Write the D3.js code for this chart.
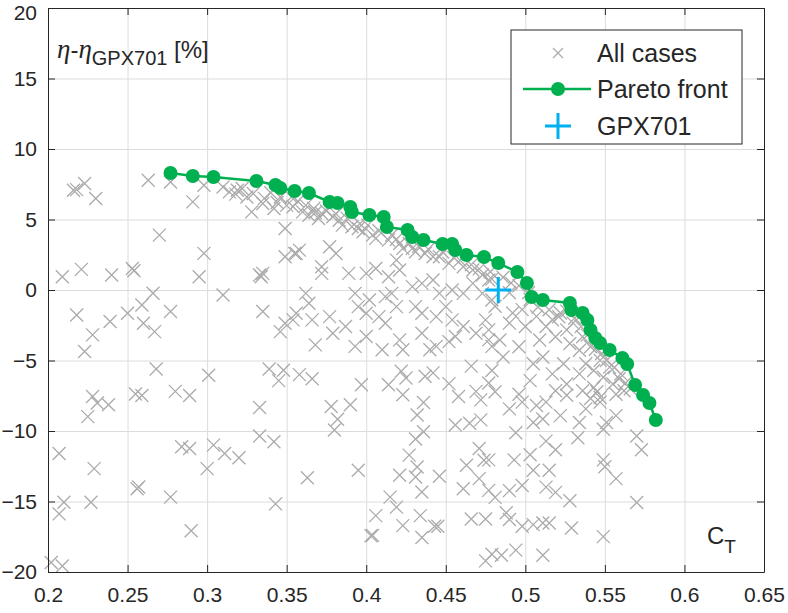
<!DOCTYPE html>
<html>
<head>
<meta charset="utf-8">
<script src="https://cdn.jsdelivr.net/npm/d3@7"></script>
<style>
  body { margin: 0; background: #fff; }
  svg { display: block; }
  text { font-family: "Liberation Sans", Arial, sans-serif; fill: #262626; }
</style>
</head>
<body>
<script>
// tick values
const xTicks = [0.2, 0.25, 0.3, 0.35, 0.4, 0.45, 0.5, 0.55, 0.6, 0.65];
const yTicks = [-20, -15, -10, -5, 0, 5, 10, 15, 20];

// all design cases, [CT, eta - eta_GPX701]
const allCases = [
  [0.216, 7.07], [0.218, 7.12], [0.223, 7.55], [0.230, 6.49], [0.263, 7.78], [0.277, 7.66],
  [0.291, 6.25], [0.298, 7.43], [0.310, 7.31], [0.314, 6.96], [0.319, 7.07], [0.325, 6.60],
  [0.329, 6.84], [0.328, 5.54], [0.335, 6.13], [0.342, 5.78], [0.346, 6.60], [0.350, 6.00],
  [0.354, 5.90], [0.349, 4.36], [0.349, 2.36], [0.355, 2.60], [0.270, 3.89], [0.298, 2.60],
  [0.295, 0.94], [0.209, 0.94], [0.221, 1.46], [0.240, 1.06], [0.253, 1.53], [0.254, 1.37],
  [0.333, 1.06], [0.335, 1.18], [0.334, 0.94], [0.310, -0.35], [0.266, -0.23], [0.259, -1.06],
  [0.250, -1.65], [0.218, -1.77], [0.239, -2.24], [0.228, -3.18], [0.223, -4.36], [0.260, -2.36],
  [0.267, -2.95], [0.277, -1.53], [0.335, -1.53], [0.346, -2.95], [0.349, -2.36], [0.354, -2.12],
  [0.228, -7.55], [0.231, -8.02], [0.238, -8.14], [0.225, -8.98], [0.255, -7.38], [0.259, -7.48],
  [0.268, -5.60], [0.280, -7.19], [0.289, -7.48], [0.301, -6.05], [0.333, -8.33], [0.339, -5.60],
  [0.345, -6.43], [0.348, -5.69], [0.333, -10.36], [0.342, -10.76], [0.207, -11.59], [0.229, -12.67],
  [0.257, -13.97], [0.256, -14.10], [0.284, -11.12], [0.289, -11.24], [0.304, -11.00], [0.311, -11.59],
  [0.320, -11.90], [0.300, -12.67], [0.277, -14.69], [0.290, -17.07], [0.343, -15.17], [0.210, -15.05],
  [0.227, -15.05], [0.207, -15.88], [0.202, -19.33], [0.209, -19.57],
  [0.353, 6.60], [0.360, 5.54], [0.364, 5.30], [0.367, 5.78], [0.370, 5.07], [0.372, 5.42],
  [0.379, 5.19], [0.383, 4.95], [0.385, 4.60], [0.391, 4.48], [0.395, 4.36], [0.398, 4.13],
  [0.404, 3.89], [0.406, 3.66], [0.414, 3.54], [0.421, 3.30], [0.423, 2.95], [0.429, 2.95],
  [0.431, 2.71], [0.437, 2.59], [0.442, 2.36], [0.446, 2.36], [0.452, 1.89], [0.461, 1.65],
  [0.467, 1.42], [0.473, 1.06], [0.477, 0.71], [0.356, 2.59], [0.358, 2.83], [0.372, 1.65],
  [0.372, 1.18], [0.377, 3.07], [0.381, 2.59], [0.389, 1.18], [0.400, 1.18], [0.406, 1.53],
  [0.414, 0.94], [0.419, 2.12], [0.421, 1.42], [0.429, 0.24], [0.435, 0.47], [0.442, 0.71],
  [0.446, -0.24], [0.454, 0.00], [0.461, -0.24], [0.467, 0.47], [0.473, -0.24], [0.479, -0.71],
  [0.362, -0.24], [0.364, -0.94], [0.356, -1.65], [0.377, -1.89], [0.366, -2.12], [0.393, -0.24],
  [0.395, -1.18], [0.400, -1.65], [0.402, -0.71], [0.412, -0.47], [0.416, -0.24], [0.408, -1.89],
  [0.412, -2.36], [0.419, -1.18], [0.431, -1.18], [0.435, -1.65], [0.444, -1.89], [0.450, -1.18],
  [0.454, -2.12], [0.456, -3.30], [0.452, -3.66], [0.461, -2.59], [0.469, -3.07], [0.475, -2.12],
  [0.477, -3.54], [0.479, -4.00], [0.387, -2.59], [0.379, -3.07], [0.393, -4.00], [0.400, -3.30],
  [0.368, -3.89], [0.421, -3.54], [0.423, -4.24], [0.440, -4.24], [0.444, -4.00], [0.435, -3.07],
  [0.410, -4.24],
  [0.358, -6.00], [0.366, -6.29], [0.397, -6.72], [0.378, -8.26], [0.390, -8.14], [0.382, -9.17],
  [0.380, -9.93], [0.363, -13.31], [0.395, -12.78], [0.414, -6.72], [0.422, -5.76], [0.425, -6.24],
  [0.423, -7.43], [0.437, -6.12], [0.442, -5.88], [0.452, -6.64], [0.436, -7.98], [0.432, -8.86],
  [0.436, -10.05], [0.431, -10.57], [0.427, -11.71], [0.432, -12.55], [0.431, -13.26], [0.421, -13.14],
  [0.446, -13.21], [0.435, -14.33], [0.415, -14.69], [0.419, -15.40], [0.406, -16.00], [0.423, -16.71],
  [0.434, -16.00], [0.443, -16.76], [0.445, -16.76], [0.403, -17.43], [0.404, -17.40], [0.435, -17.55],
  [0.458, -7.55], [0.456, -9.57], [0.465, -9.45], [0.472, -9.21], [0.469, -7.19], [0.472, -7.79],
  [0.477, -6.60], [0.466, -5.40], [0.463, -12.43], [0.471, -11.24], [0.474, -12.07], [0.471, -13.38],
  [0.477, -14.21], [0.461, -14.10], [0.466, -16.24], [0.475, -16.24], [0.475, -19.21], [0.479, -18.74],
  [0.479, 0.77], [0.481, -1.15], [0.490, -0.19], [0.492, -1.63], [0.490, -2.35], [0.498, -1.39],
  [0.503, -0.67], [0.500, -2.59], [0.507, -1.87], [0.509, -3.55], [0.513, -2.59], [0.517, -2.11],
  [0.519, -3.31], [0.522, -1.63], [0.526, -2.83], [0.528, -3.79], [0.530, -2.35], [0.534, -4.27],
  [0.536, -3.31], [0.538, -5.23], [0.541, -4.03], [0.543, -5.71], [0.547, -4.99], [0.549, -6.19],
  [0.553, -5.47], [0.555, -6.67], [0.560, -5.95], [0.562, -7.15], [0.484, -3.55], [0.486, -4.75],
  [0.496, -4.03], [0.505, -5.23], [0.511, -4.75], [0.517, -5.95], [0.524, -5.23], [0.526, -6.67],
  [0.534, -5.95], [0.536, -7.15], [0.543, -6.91], [0.547, -7.63], [0.519, -7.15], [0.503, -6.43],
  [0.496, -7.39], [0.479, -5.71], [0.477, -2.83], [0.557, -7.39],
  [0.481, -7.22], [0.490, -8.43], [0.498, -7.95], [0.507, -8.19], [0.513, -7.95], [0.522, -8.91],
  [0.505, -9.40], [0.511, -9.15], [0.526, -7.46], [0.534, -9.40], [0.538, -8.43], [0.541, -7.70],
  [0.547, -7.95], [0.551, -9.40], [0.549, -9.88], [0.557, -8.91], [0.545, -7.22], [0.533, -10.48],
  [0.494, -10.12], [0.513, -10.72], [0.519, -11.33], [0.493, -12.05], [0.503, -11.69], [0.505, -12.78],
  [0.515, -12.78], [0.513, -13.98], [0.519, -14.35], [0.528, -14.95], [0.498, -13.86], [0.490, -14.23],
  [0.481, -14.71], [0.488, -15.80], [0.490, -16.28], [0.498, -16.76], [0.505, -16.64], [0.511, -16.52],
  [0.515, -16.52], [0.529, -16.88], [0.549, -12.05], [0.550, -12.54], [0.557, -13.38], [0.549, -17.49],
  [0.570, -10.36], [0.573, -11.33], [0.570, -15.07], [0.494, -18.45], [0.511, -18.81], [0.485, -18.81],
  [0.477, -12.05],
  [0.357, 6.30], [0.362, 6.00], [0.368, 5.50], [0.375, 5.60], [0.381, 5.40], [0.388, 5.10],
  [0.396, 4.70], [0.401, 4.60], [0.408, 4.20], [0.416, 3.90], [0.419, 3.60], [0.427, 3.30],
  [0.433, 3.10], [0.439, 2.90], [0.448, 2.70], [0.455, 2.30], [0.459, 2.10], [0.466, 1.80],
  [0.471, 1.50], [0.478, 1.30], [0.486, 0.90], [0.491, 0.50], [0.496, 0.30], [0.502, -0.20],
  [0.508, -1.20], [0.515, -1.40], [0.521, -1.90], [0.526, -1.50], [0.531, -2.00], [0.535, -2.60],
  [0.539, -3.20], [0.544, -4.20], [0.548, -4.50], [0.551, -5.00], [0.556, -5.50], [0.559, -6.30],
  [0.563, -6.60], [0.566, -7.00], [0.318, 6.80], [0.322, 7.20], [0.336, 6.50], [0.340, 6.90],
  [0.344, 6.20]
];

// Pareto front
const paretoCT = [0.277, 0.291, 0.304, 0.331, 0.343, 0.346, 0.355, 0.364, 0.377, 0.382, 0.390, 0.391,
  0.402, 0.411, 0.413, 0.426, 0.429, 0.436, 0.448, 0.454, 0.456, 0.463, 0.474, 0.483, 0.495, 0.501,
  0.504, 0.511, 0.528, 0.529, 0.536, 0.539, 0.541, 0.544, 0.547, 0.553, 0.561, 0.564, 0.569, 0.574,
  0.578, 0.582];
const paretoEta = [8.30, 8.09, 8.01, 7.73, 7.45, 7.23, 7.02, 6.88, 6.24, 6.17, 5.89, 5.53,
  5.32, 5.18, 4.47, 4.26, 3.76, 3.55, 3.26, 3.26, 2.84, 2.48, 2.34, 1.91, 1.28, 0.50,
  -0.50, -0.71, -0.92, -1.42, -1.63, -2.13, -2.84, -3.40, -3.76, -4.26, -4.82, -5.25, -6.74, -7.45,
  -8.01, -9.22];

// baseline design
const gpxCT = 0.483;
const gpxEta = 0.0;

const legendLabels = ["All cases", "Pareto front", "GPX701"];

const W = 788, H = 613;
const L = 48, R = 764, T = 8, B = 572;
const grey = "#ababab", green = "#00b050", blue = "#00b0f0", ink = "#262626";

const svg = d3.select("body").append("svg").attr("width", W).attr("height", H);

const x = d3.scaleLinear().domain([0.2, 0.65]).range([L, R]);
const y = d3.scaleLinear().domain([-20, 20]).range([B, T]);

// grid
svg.append("g")
  .attr("transform", "translate(0," + B + ")")
  .call(d3.axisBottom(x).tickValues(xTicks).tickSize(-(B - T)).tickFormat(""))
  .call(g => g.select(".domain").remove())
  .selectAll("line").attr("stroke", "#dcdcdc");
svg.append("g")
  .attr("transform", "translate(" + L + ",0)")
  .call(d3.axisLeft(y).tickValues(yTicks).tickSize(-(R - L)).tickFormat(""))
  .call(g => g.select(".domain").remove())
  .selectAll("line").attr("stroke", "#dcdcdc");

// all cases
const xMark = "M-6.5,-6.5L6.5,6.5M-6.5,6.5L6.5,-6.5";
svg.append("g").selectAll("path")
  .data(allCases)
  .enter().append("path")
  .attr("d", xMark)
  .attr("transform", d => "translate(" + x(d[0]) + "," + y(d[1]) + ")")
  .attr("fill", "none")
  .attr("stroke", grey)
  .attr("stroke-width", 1.3);

// Pareto front
const pareto = paretoCT.map((c, i) => [c, paretoEta[i]]);
svg.append("path")
  .datum(pareto)
  .attr("d", d3.line().x(d => x(d[0])).y(d => y(d[1])))
  .attr("fill", "none")
  .attr("stroke", green)
  .attr("stroke-width", 2.5);
svg.append("g").selectAll("circle")
  .data(pareto)
  .enter().append("circle")
  .attr("cx", d => x(d[0]))
  .attr("cy", d => y(d[1]))
  .attr("r", 7)
  .attr("fill", green);

// GPX701
const plusMark = "M-13,0L13,0M0,-13L0,13";
svg.append("path")
  .attr("d", plusMark)
  .attr("transform", "translate(" + x(gpxCT) + "," + y(gpxEta) + ")")
  .attr("stroke", blue)
  .attr("stroke-width", 3)
  .attr("fill", "none");

// box axes with inward ticks
function styleAxis(g) {
  g.selectAll("path, line").attr("stroke", ink);
  g.selectAll("text").style("font-family", "Liberation Sans, Arial, sans-serif")
    .style("font-size", "21px").attr("fill", ink);
}
svg.append("g")
  .attr("transform", "translate(0," + B + ")")
  .call(d3.axisBottom(x).tickValues(xTicks).tickSizeInner(-7).tickSizeOuter(0).tickPadding(15)
    .tickFormat(d3.format("")))
  .call(styleAxis);
svg.append("g")
  .attr("transform", "translate(0," + T + ")")
  .call(d3.axisTop(x).tickValues(xTicks).tickSizeInner(-7).tickSizeOuter(0).tickFormat(""))
  .call(styleAxis);
svg.append("g")
  .attr("transform", "translate(" + L + ",0)")
  .call(d3.axisLeft(y).tickValues(yTicks).tickSizeInner(-7).tickSizeOuter(0).tickPadding(11)
    .tickFormat(d3.format("")))
  .call(styleAxis)
  .selectAll("text").attr("dy", d => d === 20 ? "0.55em" : "0.32em");
svg.append("g")
  .attr("transform", "translate(" + R + ",0)")
  .call(d3.axisRight(y).tickValues(yTicks).tickSizeInner(-7).tickSizeOuter(0).tickFormat(""))
  .call(styleAxis);

// axis labels
const yl = svg.append("text").attr("x", 57).attr("y", 58).style("font-size", "24px");
yl.append("tspan").text("η").style("font-family", "Liberation Serif, serif").style("font-style", "italic")
  .style("font-size", "27px");
yl.append("tspan").text("-");
yl.append("tspan").text("η").style("font-family", "Liberation Serif, serif").style("font-style", "italic")
  .style("font-size", "27px");
yl.append("tspan").text("GPX701").attr("dy", 7).style("font-size", "20px");
yl.append("tspan").text(" [%]").attr("dy", -7);

const xl = svg.append("text").attr("x", 707).attr("y", 544).style("font-size", "24px");
xl.append("tspan").text("C");
xl.append("tspan").text("T").attr("dy", 9).style("font-size", "19px");

// legend
const leg = svg.append("g");
leg.append("rect")
  .attr("x", 511).attr("y", 30).attr("width", 231).attr("height", 114)
  .attr("fill", "#fff").attr("stroke", ink).attr("stroke-width", 1);
const rowY = [53, 89, 126];
leg.append("path").attr("d", "M-5,-5L5,5M-5,5L5,-5")
  .attr("transform", "translate(558," + rowY[0] + ")")
  .attr("stroke", grey).attr("stroke-width", 1.2).attr("fill", "none");
leg.append("line").attr("x1", 523).attr("x2", 591).attr("y1", rowY[1]).attr("y2", rowY[1])
  .attr("stroke", green).attr("stroke-width", 2.5);
leg.append("circle").attr("cx", 558).attr("cy", rowY[1]).attr("r", 7).attr("fill", green);
leg.append("path").attr("d", plusMark)
  .attr("transform", "translate(558," + rowY[2] + ")")
  .attr("stroke", blue).attr("stroke-width", 3).attr("fill", "none");
leg.selectAll("text.lab")
  .data(legendLabels)
  .enter().append("text")
  .attr("class", "lab")
  .attr("x", 597)
  .attr("y", (d, i) => rowY[i])
  .attr("dy", "0.36em")
  .style("font-size", "25px")
  .text(d => d);
</script>
</body>
</html>
